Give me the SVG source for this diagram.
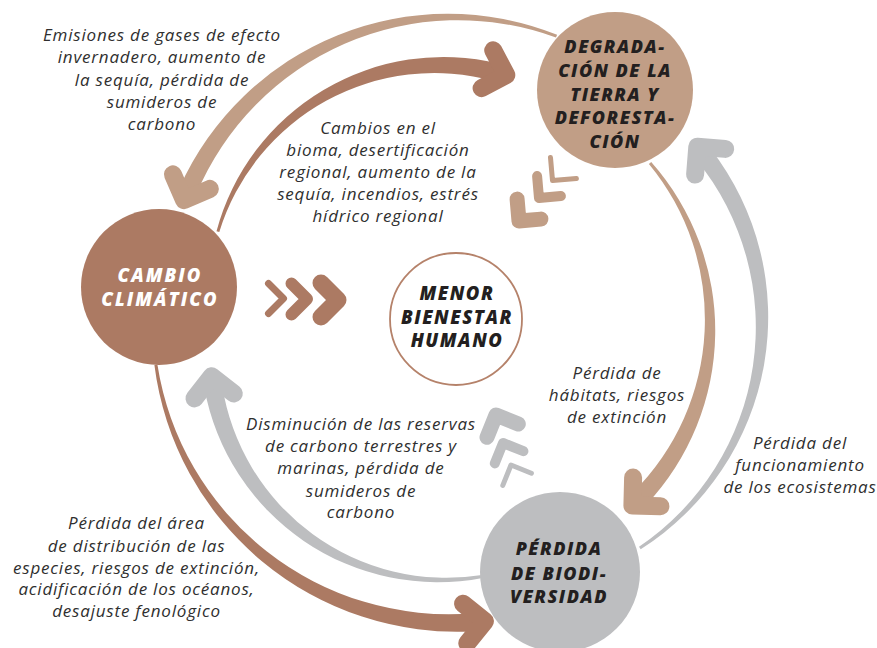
<svg xmlns="http://www.w3.org/2000/svg" width="877" height="648" viewBox="0 0 877 648">
<style>
.lbl{font-family:"Open Sans","Liberation Sans",sans-serif;font-style:italic;font-size:17px;letter-spacing:0.8px;fill:#2f2f2f;text-anchor:middle}
.ttl{font-family:"Open Sans","Liberation Sans",sans-serif;font-style:italic;font-weight:800;font-size:18px;letter-spacing:1.5px;text-anchor:middle;fill:#231f20}
.head{fill:none;stroke-linecap:round;stroke-linejoin:round;stroke-width:18}
.chev{fill:none;stroke-linecap:round;stroke-linejoin:round}
.brown{fill:#ac7a63}
.tan{fill:#c19e86}
.gray{fill:#bdbec0}
.sb{stroke:#ac7a63}
.st{stroke:#c19e86}
.sg{stroke:#bdbec0}
</style>
<rect width="877" height="648" fill="#ffffff"/>
<g id="connectors">
  <!-- A: Degradación -> Cambio (outer) -->
  <path class="tan" d="M557.1 34.8 A294 294 0 0 0 179.7 187.2 L196.2 194.4 A284 284 0 0 1 556 37.6 Z"/>
  <polyline class="head st" points="209.8,188.9 184.1,200.1 172.9,174.4"/>
  <!-- B: Cambio -> Degradación (inner) -->
  <path class="brown" d="M216.5 231.2 A235 235 0 0 1 498.8 63.6 L494.3 81.1 A225 225 0 0 0 219.3 232 Z"/>
  <polyline class="head sb" points="493.2,50.3 506.3,75 481.6,88.1"/>
  <!-- C: Degradación -> Pérdida (inner) -->
  <path class="tan" d="M651.2 162 A254 254 0 0 1 646 504.9 L633.1 492.3 A244 244 0 0 0 648.9 163.9 Z"/>
  <polyline class="head st" points="660.4,506.3 632.4,505.6 633.1,477.6"/>
  <!-- D: Pérdida -> Degradación (outer) -->
  <path class="gray" d="M640.7 549.2 A275 275 0 0 0 710.6 148.7 L696.5 159.9 A265 265 0 0 1 639 546.7 Z"/>
  <polyline class="head sg" points="695.1,174.6 697.3,146.7 725.2,148.9"/>
  <!-- E: Pérdida -> Cambio (inner) -->
  <path class="gray" d="M482.5 577.9 A237 237 0 0 1 204.3 387.8 L222.1 384.8 A227 227 0 0 0 482 575 Z"/>
  <polyline class="head sg" points="194.5,398.4 211.7,376.3 233.8,393.5"/>
  <!-- F: Cambio -> Pérdida (outer) -->
  <path class="brown" d="M154.4 365 A305 305 0 0 0 475.1 631.2 L473.8 613.2 A295 295 0 0 1 157.4 364.6 Z"/>
  <polyline class="head sb" points="463.1,603.7 484.9,621.3 467.3,643.1"/>
</g>
<g id="chevrons">
  <polyline class="chev sb" stroke-width="7" points="268.5,283.5 283.5,298.5 268.5,313.5"/>
  <polyline class="chev sb" stroke-width="12" points="291.5,283.5 307,299 291.5,314.5"/>
  <polyline class="chev sb" stroke-width="17" points="321,283 338,300 321,317"/>
  <polyline class="chev st" stroke-width="5" points="550.5,157.6 552.5,180.5 576.4,178.4"/>
  <polyline class="chev st" stroke-width="10" points="537.1,176.1 539,198 560.9,196.1"/>
  <polyline class="chev st" stroke-width="15" points="517.1,199.1 519,221 540.9,219.1"/>
  <polyline class="chev sg" stroke-width="15" points="487,437.3 496,415 518.3,424"/>
  <polyline class="chev sg" stroke-width="10" points="494.8,463.4 503,443 523.4,451.2"/>
  <polyline class="chev sg" stroke-width="5" points="502.8,485.4 511,465 531.4,473.2"/>
</g>
<g id="labels">
  <text class="lbl"><tspan x="162" y="41">Emisiones de gases de efecto</tspan><tspan x="162" y="63">invernadero, aumento de</tspan><tspan x="162" y="85.5">la sequía, pérdida de</tspan><tspan x="162" y="108">sumideros de</tspan><tspan x="162" y="130">carbono</tspan></text>
  <text class="lbl"><tspan x="378" y="134">Cambios en el</tspan><tspan x="378" y="156">bioma, desertificación</tspan><tspan x="378" y="178">regional, aumento de la</tspan><tspan x="378" y="200">sequía, incendios, estrés</tspan><tspan x="378" y="222">hídrico regional</tspan></text>
  <text class="lbl"><tspan x="617" y="379">Pérdida de</tspan><tspan x="617" y="401">hábitats, riesgos</tspan><tspan x="617" y="423">de extinción</tspan></text>
  <text class="lbl"><tspan x="800" y="449">Pérdida del</tspan><tspan x="800" y="471">funcionamiento</tspan><tspan x="800" y="493">de los ecosistemas</tspan></text>
  <text class="lbl"><tspan x="361" y="430">Disminución de las reservas</tspan><tspan x="361" y="452">de carbono terrestres y</tspan><tspan x="361" y="474">marinas, pérdida de</tspan><tspan x="361" y="496.5">sumideros de</tspan><tspan x="361" y="518">carbono</tspan></text>
  <text class="lbl"><tspan x="136.5" y="529">Pérdida del área</tspan><tspan x="136.5" y="551.5">de distribución de las</tspan><tspan x="136.5" y="573.5">especies, riesgos de extinción,</tspan><tspan x="136.5" y="595">acidificación de los océanos,</tspan><tspan x="136.5" y="617">desajuste fenológico</tspan></text>
</g>
<g id="cambio">
  <circle cx="159" cy="287" r="78" fill="#ac7a63"/>
  <text class="ttl" style="fill:#ffffff;font-size:18.5px;letter-spacing:2px"><tspan x="160" y="282">CAMBIO</tspan><tspan x="160" y="306">CLIMÁTICO</tspan></text>
</g>
<g id="degradacion">
  <circle cx="615" cy="90" r="78" fill="#c19e86"/>
  <text class="ttl"><tspan x="615" y="53">DEGRADA-</tspan><tspan x="615" y="77">CIÓN DE LA</tspan><tspan x="615" y="101">TIERRA Y</tspan><tspan x="615" y="124">DEFORESTA-</tspan><tspan x="615" y="148">CIÓN</tspan></text>
</g>
<g id="menor">
  <circle cx="456" cy="319" r="66" fill="#ffffff" stroke="#b5826a" stroke-width="1.8"/>
  <text class="ttl" style="font-size:18.5px;letter-spacing:1.5px"><tspan x="457" y="300">MENOR</tspan><tspan x="457" y="323.5">BIENESTAR</tspan><tspan x="457" y="347">HUMANO</tspan></text>
</g>
<g id="perdida">
  <circle cx="560" cy="572" r="80" fill="#bdbec0"/>
  <text class="ttl"><tspan x="559" y="555">PÉRDIDA</tspan><tspan x="559" y="580">DE BIODI-</tspan><tspan x="559" y="603">VERSIDAD</tspan></text>
</g>
</svg>
